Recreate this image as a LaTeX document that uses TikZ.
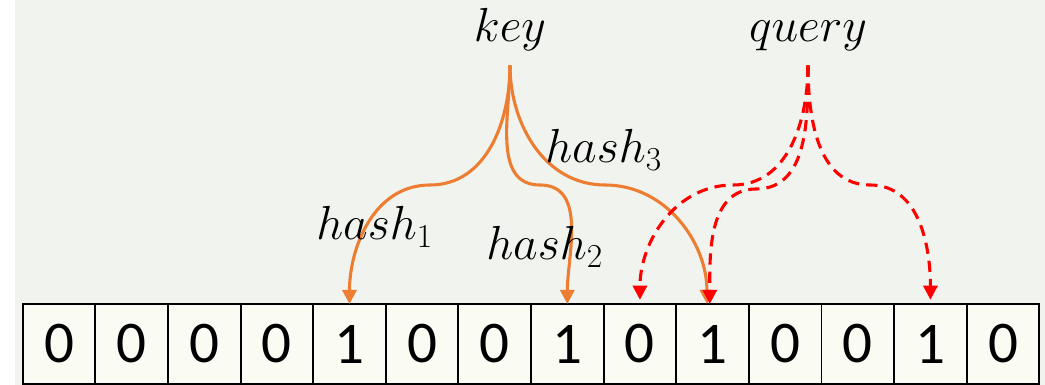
\RequirePackage{fix-cm}
\documentclass[tikz,border=0pt]{standalone}
\usepackage{fontspec}
\newfontfamily\bitfont{Carlito}
\usetikzlibrary{positioning, arrows.meta}
\definecolor{hashorange}{RGB}{237,125,49}
\definecolor{queryred}{RGB}{255,0,0}
\definecolor{photobg}{RGB}{241,243,238}
\definecolor{cellbg}{RGB}{250,251,242}
\newcommand{\bitcell}[3]{\node[bit, #3] (#1) {#2};}
\newcommand{\hashedge}[6]{\draw [->, >={Triangle[length=10pt, width=10pt]}, line width=2.2pt, #6] (#1) to[out=-90, in=#4] (#2) to[out=#5, in=90] (#3);}

\begin{document}
\begin{tikzpicture}[x=0.025cm, y=-0.025cm,
  bit/.style={draw, line width=1.4pt, fill=cellbg, minimum width=1.815cm, minimum height=2cm, inner sep=0pt, outer sep=0pt, font=\bitfont\fontsize{42}{50}\selectfont},
  lbl/.style={inner sep=0pt, font=\fontsize{34}{40}\selectfont},
  src/.style={lbl, outer sep=10pt},
  keyedge/.style={hashorange},
  queryedge/.style={queryred, dash pattern=on 8pt off 5pt}]

\useasboundingbox (0,0) rectangle (1045,385);
\fill[photobg] (15,0) rectangle (1045,385);

% bit array
\bitcell{c1}{0}{at={(59,344)}};
\bitcell{c2}{0}{right=0pt of c1};
\bitcell{c3}{0}{right=0pt of c2};
\bitcell{c4}{0}{right=0pt of c3};
\bitcell{c5}{1}{right=0pt of c4};
\bitcell{c6}{0}{right=0pt of c5};
\bitcell{c7}{0}{right=0pt of c6};
\bitcell{c8}{1}{right=0pt of c7};
\bitcell{c9}{0}{right=0pt of c8};
\bitcell{c10}{1}{right=0pt of c9};
\bitcell{c11}{0}{right=0pt of c10};
\bitcell{c12}{0}{right=0pt of c11};
\bitcell{c13}{1}{right=0pt of c12};
\bitcell{c14}{0}{right=0pt of c13};

\node[src, anchor=base] (key) at (510,42) {$key$};
\node[src, anchor=base] (query) at (808,42) {$query$};

% turning points of the curves
\coordinate (h1bend) at (430,185);
\coordinate (h2bend) at (540,185);
\coordinate (h3bend) at (605,185);
\coordinate (q1bend) at (733,185);
\coordinate (q2bend) at (756,189);
\coordinate (q3bend) at (870,185);

\hashedge{key.south}{h1bend}{c5.north}{0}{180}{keyedge};
\hashedge{key.south}{h2bend}{c8.north}{180}{0}{keyedge};
\hashedge{key.south}{h3bend}{[xshift=-4pt]c10.north}{180}{0}{keyedge};

\hashedge{query.south}{q1bend}{[yshift=3pt]c9.north}{0}{180}{queryedge};
\hashedge{query.south}{q2bend}{[xshift=-2pt]c10.north}{0}{180}{queryedge};
\hashedge{query.south}{q3bend}{[yshift=3pt]c13.north}{180}{0}{queryedge};

\node[lbl, anchor=base west] (h1) at (316,240) {$hash_1$};
\node[lbl, anchor=base west] (h2) at (486,260) {$hash_2$};
\node[lbl, anchor=base west] (h3) at (545,163) {$hash_3$};
\end{tikzpicture}
\end{document}
